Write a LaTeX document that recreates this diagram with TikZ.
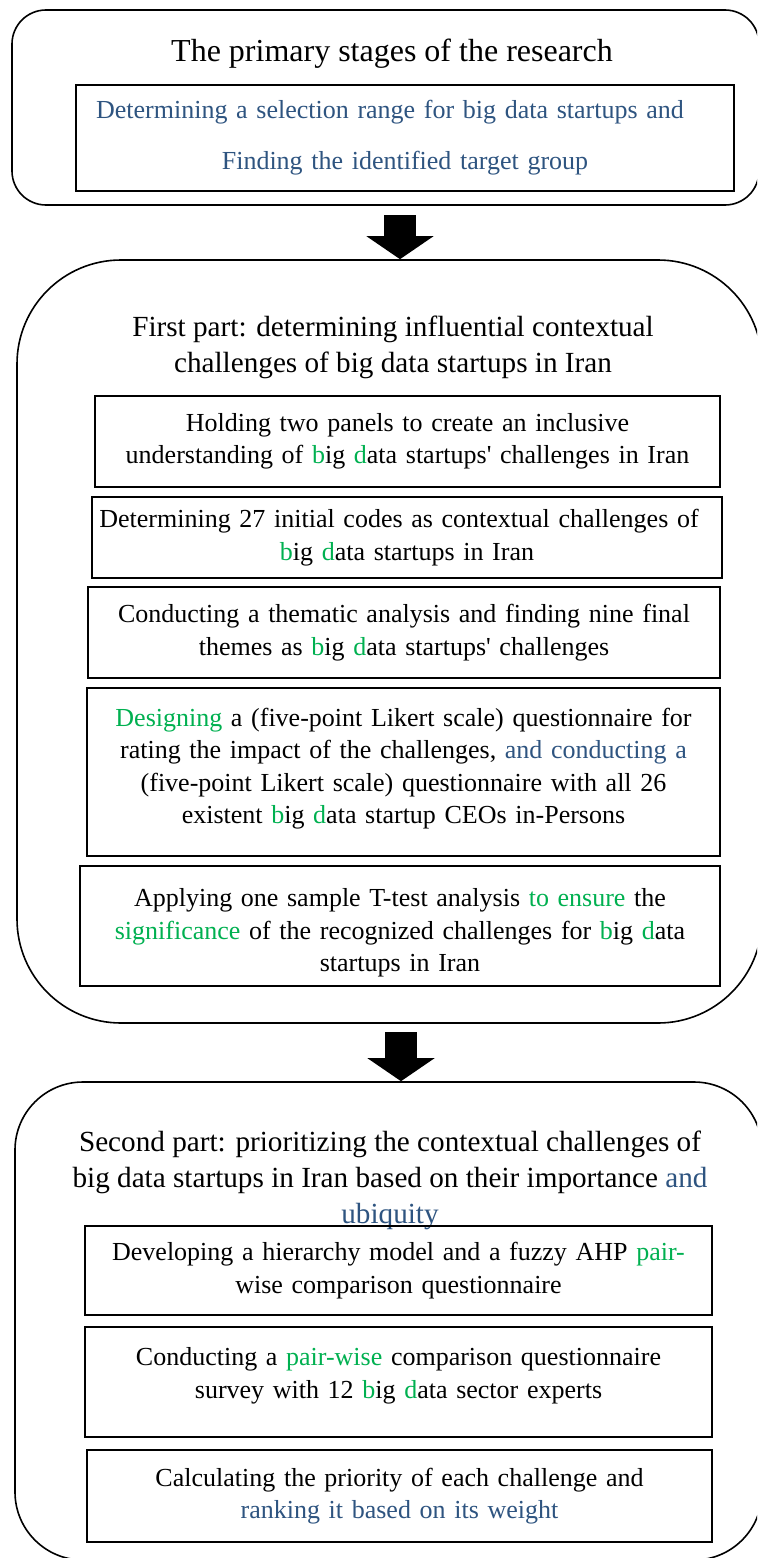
\documentclass[tikz,border=0pt]{standalone}
\usepackage{fontspec}
\setmainfont{Liberation Serif}
\usetikzlibrary{arrows.meta}
\definecolor{deepblue}{RGB}{46,84,128}
\definecolor{leafgreen}{RGB}{0,176,80}
\newcommand{\gbd}{\textcolor{leafgreen}{b}ig \textcolor{leafgreen}{d}ata}
\begin{document}
\begin{tikzpicture}[x=0.5pt, y=-0.5pt,
    stage/.style={draw, line width=0.8pt, inner sep=0pt},
    stepbox/.style={draw, line width=0.8pt, align=center, inner xsep=3pt, inner ysep=0pt, font=\fontsize{13}{16.25}\selectfont},
    heading/.style={align=center, font=\fontsize{14.6}{18}\selectfont},
    flow/.style={line width=16pt, -{Triangle[width=33pt, length=11.5pt]}}]
    \useasboundingbox (0,0) rectangle (757,1558);
    \clip (0,0) rectangle (757,1558);

    % Stages
    \node[stage, rounded corners=17pt, minimum width=373.5pt, minimum height=97.5pt] (intro) at (385.5,107.5) {};
    \node[stage, rounded corners=52pt, minimum width=372.5pt, minimum height=381.5pt] (first) at (389.5,641.5) {};
    \node[stage, rounded corners=34pt, minimum width=373.5pt, minimum height=239pt] (second) at (388.5,1321) {};

    % Headings
    \node[heading, font=\fontsize{16}{18}\selectfont] (introtitle) at (392,54) {The primary stages of the research};
    \node[heading] (firsttitle) at (393,347) {First part: determining influential contextual\\challenges of big data startups in Iran};
    \node[heading] (secondtitle) at (390,1180) {Second part: prioritizing the contextual challenges of\\big data startups in Iran based on their importance \textcolor{deepblue}{and}\\\textcolor{deepblue}{ubiquity}};

    % Primary stage
    \node[stepbox, text width=323pt, minimum height=53pt, font=\fontsize{13}{25.5}\selectfont, text=deepblue] (range) at (405,138) {Determining a selection range for big data startups and\hspace{15pt}\mbox{}\\Finding the identified target group};

    % First part steps
    \node[stepbox, text width=306.5pt, minimum height=45.5pt] (panels) at (407.5,441.5) {Holding two panels to create an inclusive\\understanding of \gbd{} startups\textquotesingle{} challenges in Iran};
    \node[stepbox, text width=309pt, minimum height=40.5pt] (codes) at (407,537.5) {Determining 27 initial codes as contextual challenges of\hspace{8pt}\mbox{}\\\gbd{} startups in Iran};
    \node[stepbox, text width=310pt, minimum height=45.5pt] (themes) at (404,632.5) {Conducting a thematic analysis and finding nine final\\themes as \gbd{} startups\textquotesingle{} challenges};
    \node[stepbox, text width=310.5pt, minimum height=84pt] (likert) at (403.5,772) {\textcolor{leafgreen}{Designing} a (five-point Likert scale) questionnaire for\\rating the impact of the challenges, \textcolor{deepblue}{and conducting a}\\(five-point Likert scale) questionnaire with all 26\\existent \gbd{} startup CEOs in-Persons\\[-10pt]\mbox{}};
    \node[stepbox, text width=314pt, minimum height=60pt] (ttest) at (400,926) {\mbox{}\\Applying one sample T-test analysis \textcolor{leafgreen}{to ensure} the\\\textcolor{leafgreen}{significance} of the recognized challenges for \gbd\\startups in Iran};

    % Second part steps
    \node[stepbox, text width=307.5pt, minimum height=44.5pt] (model) at (398.5,1270.5) {Developing a hierarchy model and a fuzzy AHP \textcolor{leafgreen}{pair-}\\wise comparison questionnaire};
    \node[stepbox, text width=307.5pt, minimum height=55pt] (survey) at (398.5,1382) {Conducting a \textcolor{leafgreen}{pair-wise} comparison questionnaire\\survey with 12 \gbd{} sector experts\\[-7pt]\mbox{}};
    \node[stepbox, text width=306.5pt, minimum height=46pt] (ranking) at (399.5,1496) {Calculating the priority of each challenge and\\\textcolor{deepblue}{ranking it based on its weight}};

    % Flow arrows
    \coordinate (flowa) at (400,215);
    \coordinate (flowb) at (401,1032);
    \draw[flow] (flowa) -- (flowa |- first.north);
    \draw[flow] (flowb) -- (flowb |- second.north);
\end{tikzpicture}
\end{document}
